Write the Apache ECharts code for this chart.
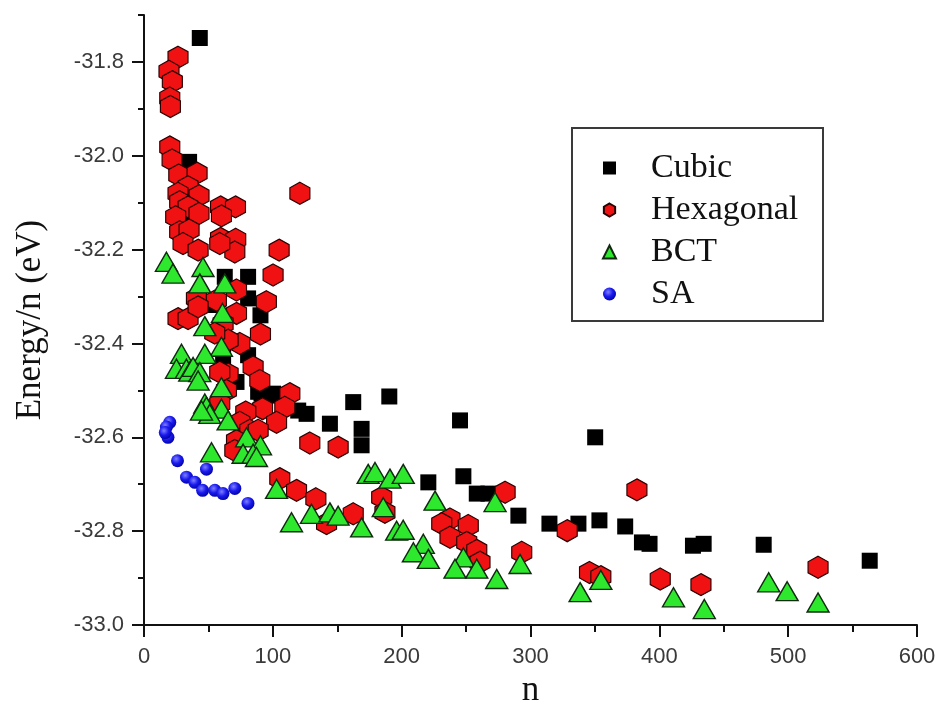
<!DOCTYPE html>
<html>
<head>
<meta charset="utf-8">
<title>Energy per atom vs cluster size</title>
<script src="https://cdn.jsdelivr.net/npm/echarts@6/dist/echarts.min.js"></script>
<style>
  html, body { margin: 0; padding: 0; background: #ffffff; }
  #chart { width: 941px; height: 704px; }
</style>
</head>
<body>
<div id="chart"></div>
<script>
// Energy per atom (eV) against cluster size n, one array per structure type
const cubic = [
  [43.3,-31.749],[35,-32.013],[33,-32.13],[80.8,-32.258],[62.7,-32.258],[80.8,-32.304],
  [90.4,-32.340],[52.4,-32.318],[61.4,-32.429],[80.8,-32.425],[88.6,-32.503],[100.2,-32.507],
  [71.8,-32.482],[119.7,-32.543],[91.2,-32.507],[101.6,-32.511],[126.2,-32.550],[144.3,-32.571],
  [162.4,-32.525],[190.4,-32.513],[168.9,-32.582],[168.9,-32.617],[245.3,-32.564],[220.7,-32.696],
  [247.9,-32.683],[258.3,-32.720],[267.3,-32.720],[290.6,-32.767],[314.7,-32.784],[337.2,-32.784],
  [350.2,-32.600],[353.5,-32.777],[373.5,-32.790],[386.5,-32.824],[392.4,-32.827],[426.1,-32.831],
  [434.4,-32.827],[481,-32.829],[563.3,-32.863]
];

const hexagonal = [
  [26.4,-31.790],[19.4,-31.820],[22,-31.842],[20,-31.877],[20.5,-31.895],[20,-31.981],
  [21.8,-32.009],[27,-32.041],[41.2,-32.037],[34.2,-32.066],[26.4,-32.080],[42.7,-32.085],
  [27.7,-32.098],[34.2,-32.109],[42.7,-32.123],[24.6,-32.130],[59.4,-32.109],[71,-32.109],
  [60.1,-32.128],[121,-32.080],[27.7,-32.162],[35,-32.158],[59.4,-32.176],[71.2,-32.178],
  [30.3,-32.187],[42,-32.201],[70.5,-32.205],[104.9,-32.201],[58.8,-32.187],[100.2,-32.254],
  [95,-32.311],[90.4,-32.380],[71.8,-32.286],[71.8,-32.336],[40.7,-32.304],[26.4,-32.347],
  [34.2,-32.347],[56.2,-32.308],[61.4,-32.358],[74.4,-32.400],[65.3,-32.393],[84.7,-32.450],
  [89.9,-32.479],[65.3,-32.465],[58.8,-32.461],[113.2,-32.507],[109.3,-32.536],[92,-32.539],
  [79,-32.546],[102.9,-32.568],[64,-32.500],[58.8,-32.528],[74.4,-32.568],[82.1,-32.585],
  [71.8,-32.607],[70.5,-32.628],[105.4,-32.688],[42,-32.322],[54.9,-32.378],[88.6,-32.585],
  [128.7,-32.612],[150.7,-32.621],[118.4,-32.713],[133.4,-32.731],[141.7,-32.784],[162.4,-32.763],
  [184.5,-32.728],[187,-32.760],[280.3,-32.717],[237.5,-32.774],[231.1,-32.784],[251.7,-32.788],
  [237.5,-32.813],[250.5,-32.824],[258.3,-32.841],[293.2,-32.845],[328.5,-32.799],[260.8,-32.866],
  [382.6,-32.712],[345.8,-32.888],[354.6,-32.897],[400.7,-32.902],[432.3,-32.914],[523.2,-32.877]
];

const bct = [
  [17.4,-32.226],[22.5,-32.251],[45.8,-32.237],[43.3,-32.272],[62.7,-32.272],[60.9,-32.335],
  [47.2,-32.363],[60.1,-32.407],[29.1,-32.422],[47.2,-32.422],[25.2,-32.454],[32.9,-32.454],
  [35.5,-32.46],[38.1,-32.450],[43.3,-32.461],[42,-32.479],[60.1,-32.493],[47.2,-32.528],
  [48.5,-32.535],[60.1,-32.539],[51,-32.550],[65.3,-32.564],[44.6,-32.543],[79.6,-32.600],
  [90.4,-32.617],[76.9,-32.635],[84.7,-32.635],[87.3,-32.642],[52.4,-32.632],[102.9,-32.710],
  [114.5,-32.781],[130,-32.763],[144.3,-32.760],[150.7,-32.767],[168.9,-32.792],[174,-32.678],
  [179.3,-32.674],[190.9,-32.688],[201.2,-32.678],[185.7,-32.749],[196.1,-32.799],[201.2,-32.797],
  [225.9,-32.735],[272.5,-32.738],[216.8,-32.827],[209.1,-32.845],[220.7,-32.859],[247.9,-32.856],
  [241.4,-32.880],[258.3,-32.880],[273.8,-32.902],[291.9,-32.870],[338.5,-32.930],[354.6,-32.904],
  [411,-32.941],[434.9,-32.966],[484.9,-32.909],[499.2,-32.928],[523.2,-32.952]
];

const sa = [
  [20,-32.568],[17.4,-32.578],[18.6,-32.600],[16.5,-32.59],[26,-32.650],[33,-32.685],
  [39.5,-32.696],[45.5,-32.713],[48.5,-32.668],[55,-32.713],[61.3,-32.72],[70.5,-32.709],
  [80.7,-32.741]
];

const seriesNames = ['Cubic', 'Hexagonal', 'BCT', 'SA'];
const yMajorTicks = [-33.0, -32.8, -32.6, -32.4, -32.2, -32.0, -31.8];
const yMinorTicks = [-32.9, -32.7, -32.5, -32.3, -32.1, -31.9, -31.7];

const hexPath = 'path://M0,-10L8.66,-5L8.66,5L0,10L-8.66,5L-8.66,-5Z';
const serif = "'Liberation Serif', 'Times New Roman', serif";
const sans = "'Liberation Sans', Arial, sans-serif";

const chart = echarts.init(document.getElementById('chart'), null, { renderer: 'canvas' });

const yBase = {
  type: 'value',
  min: -33.0,
  max: -31.7,
  interval: 0.2,
  position: 'left',
  splitLine: { show: false }
};

chart.setOption({
  backgroundColor: '#ffffff',
  animation: false,
  grid: { left: 144, right: 24, top: 15, bottom: 79, containLabel: false, outerBoundsMode: 'none' },
  graphic: [{
    type: 'rect',
    shape: { x: 572, y: 128, width: 251, height: 193 },
    style: { fill: 'none', stroke: '#3a3a3a', lineWidth: 2 },
    z: 10
  }],
  legend: {
    orient: 'vertical',
    left: 597,
    top: 146,
    itemWidth: 13,
    itemHeight: 13,
    itemGap: 8,
    data: seriesNames,
    textStyle: {
      fontFamily: serif,
      fontSize: 34,
      color: '#111',
      lineHeight: 34,
      padding: [0, 0, 0, 30]
    },
    z: 11
  },
  xAxis: {
    type: 'value',
    min: 0,
    max: 600,
    interval: 100,
    name: 'n',
    nameLocation: 'middle',
    nameGap: 46,
    nameTextStyle: { fontFamily: serif, fontSize: 35, color: '#111' },
    axisLine: { show: true, onZero: false, lineStyle: { color: '#111', width: 2 } },
    axisTick: { show: true, inside: false, length: 12, lineStyle: { color: '#111', width: 2 } },
    minorTick: { show: true, splitNumber: 2, length: 7, lineStyle: { color: '#111', width: 2 } },
    axisLabel: { fontFamily: sans, fontSize: 22, color: '#3a3a3a', margin: 21 },
    splitLine: { show: false }
  },
  yAxis: [
    Object.assign({}, yBase, {
      name: 'Energy/n (eV)',
      nameLocation: 'middle',
      nameGap: 96,
      nameTextStyle: { fontFamily: serif, fontSize: 35, color: '#111' },
      axisLine: { show: true, onZero: false, lineStyle: { color: '#111', width: 2 } },
      axisTick: { show: true, inside: false, length: 12, customValues: yMajorTicks,
                  lineStyle: { color: '#111', width: 2 } },
      axisLabel: { fontFamily: sans, fontSize: 22, color: '#3a3a3a', margin: 20,
                   customValues: yMajorTicks,
                   formatter: v => v.toFixed(1) }
    }),
    Object.assign({}, yBase, {
      axisLine: { show: false },
      axisTick: { show: true, inside: false, length: 6, customValues: yMinorTicks,
                  lineStyle: { color: '#111', width: 2 } },
      axisLabel: { show: false }
    })
  ],
  series: [
    {
      name: 'Cubic',
      type: 'scatter',
      data: cubic,
      symbol: 'rect',
      symbolSize: 16,
      itemStyle: { color: '#000000', opacity: 1 },
      z: 2
    },
    {
      name: 'Hexagonal',
      type: 'scatter',
      data: hexagonal,
      symbol: hexPath,
      symbolSize: [20, 22],
      symbolKeepAspect: false,
      itemStyle: { color: '#f01212', borderColor: '#2a0000', borderWidth: 1.2, opacity: 1 },
      z: 3
    },
    {
      name: 'BCT',
      type: 'scatter',
      data: bct,
      symbol: 'triangle',
      symbolSize: [22, 19],
      itemStyle: { color: '#2ee82e', borderColor: '#0f2a0f', borderWidth: 1.4, opacity: 1 },
      z: 4
    },
    {
      name: 'SA',
      type: 'scatter',
      data: sa,
      symbol: 'circle',
      symbolSize: 13,
      itemStyle: {
        opacity: 1,
        color: new echarts.graphic.RadialGradient(0.4, 0.35, 0.7, [
          { offset: 0, color: '#7f7fff' },
          { offset: 0.5, color: '#1a1aee' },
          { offset: 1, color: '#0000a0' }
        ])
      },
      z: 5
    }
  ]
});
</script>
</body>
</html>
